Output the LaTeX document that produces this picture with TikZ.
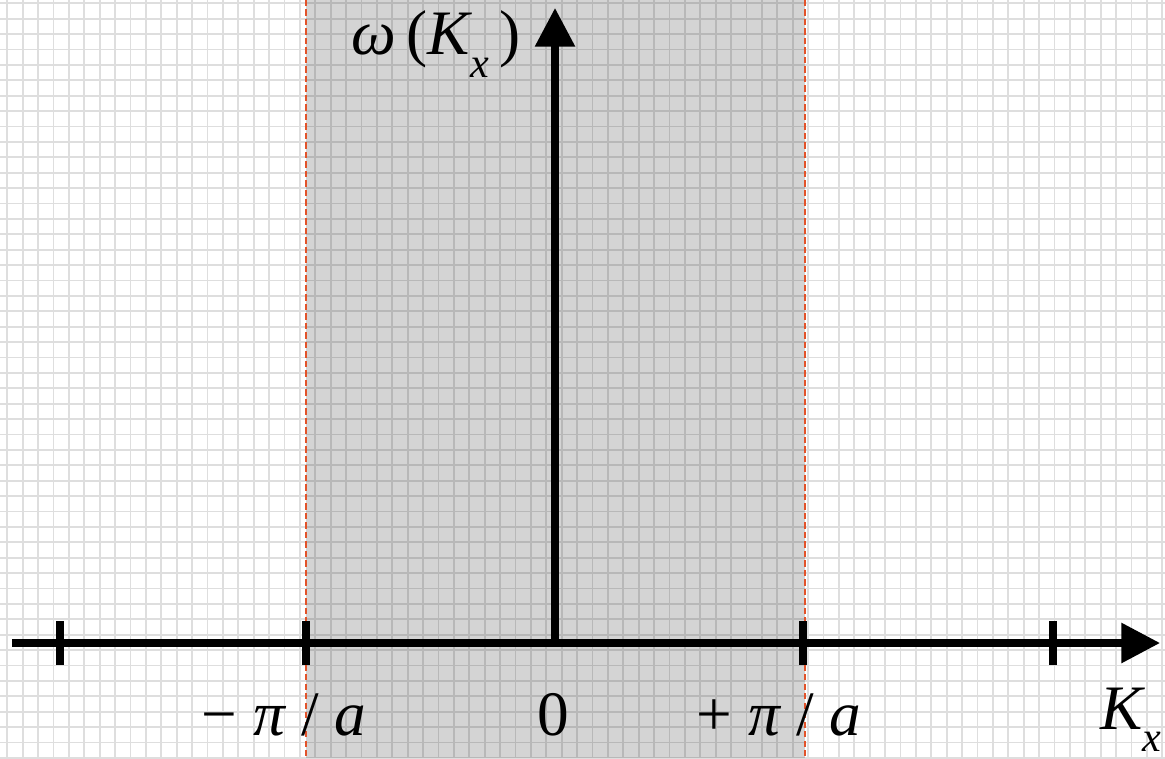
\documentclass[tikz,border=0pt]{standalone}
\definecolor{GridGray}{HTML}{DEDEDE}
\definecolor{ZoneShade}{HTML}{000000}
\definecolor{ZoneEdge}{HTML}{E2532A}
\definecolor{AxisBlack}{HTML}{000000}
\usepackage{fontspec}
\setmainfont{Liberation Serif}
\usepackage{tikz}
\usetikzlibrary{arrows.meta,positioning,calc}
\tikzset{
    % Background grid
    grid line/.style={
        draw=GridGray,
        line width=0.55pt
    },
    % First Brillouin zone
    zone fill/.style={
        fill=ZoneShade,
        fill opacity=0.17,
        draw=none
    },
    zone edge/.style={
        draw=ZoneEdge,
        line width=0.45pt,
        dash pattern=on 1.8pt off 0.9pt
    },
    axis/.style={
        -{Triangle[length=11pt,width=11pt]},
        line width=2pt,
        color=AxisBlack
    },
    tick mark/.style={
        line width=2.3pt,
        color=AxisBlack
    },
    axis label/.style={
        font=\fontsize{18}{20}\selectfont,
        inner sep=0pt,
        anchor=base
    }
}
\newcommand{\subx}{\raisebox{-6.5pt}{\fontsize{12}{12}\selectfont\itshape x}}

\begin{document}
\begin{tikzpicture}[x=0.01cm, y=-0.01cm]
        \useasboundingbox (0,0) rectangle (1165,758);

        % Grid
        \foreach \i in {0,...,75}
            \draw[grid line] ({7.3+15.4*\i},0) -- ({7.3+15.4*\i},758);
        \foreach \j in {0,...,49}
            \draw[grid line] (0,{3.3+15.4*\j}) -- (1165,{3.3+15.4*\j});

        % Zone
        \coordinate (zoneLtop) at (306,0);
        \coordinate (zoneLbot) at (306,758);
        \coordinate (zoneRtop) at (805,0);
        \coordinate (zoneRbot) at (805,758);
        \path[zone fill] (zoneLtop) rectangle (zoneRbot);
        \draw[zone edge] (zoneLtop) -- (zoneLbot);
        \draw[zone edge] (zoneRtop) -- (zoneRbot);

        % Axes
        \coordinate (xleft) at (12,643);
        \coordinate (xright) at (1160,643);
        \coordinate (origin) at (555,643);
        \coordinate (ytop) at (555,8);
        \draw[axis] (xleft) -- (xright);
        \draw[axis] (origin) -- (ytop);

        % Ticks
        \foreach \name/\x in {farL/60, piL/306, piR/803, farR/1053} {
            \coordinate (\name) at (\x,643);
            \draw[tick mark] ($(\name)+(0,-22)$) -- ($(\name)+(0,22)$);
        }

        % Labels
        \node[axis label] (minuspi) at (284,735) {− {\itshape π} / {\itshape a}};
        \node[axis label] (zero) at (553,735) {0};
        \node[axis label] (pluspi) at (779,735) {+ {\itshape π} / {\itshape a}};
        \node[axis label] (kx) at (1131,729) {{\itshape K}\subx};
        \node[axis label] (omega) at (436,55) {{\itshape ω}\,({\itshape K}\subx\,)};
    \end{tikzpicture}
\end{document}
